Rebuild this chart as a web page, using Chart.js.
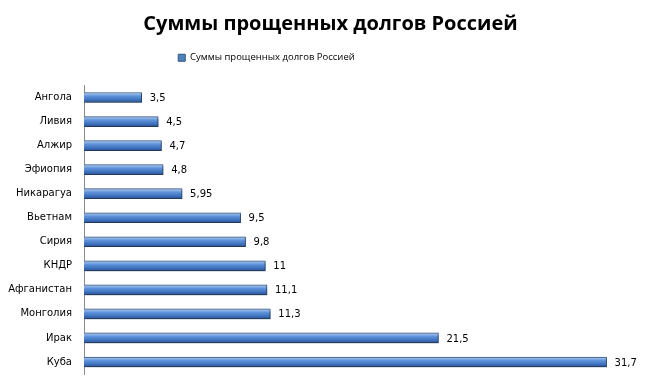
<!DOCTYPE html>
<html lang="ru">
<head>
  <meta charset="UTF-8">
  <title>Суммы прощенных долгов Россией</title>
  <script src="https://cdn.jsdelivr.net/npm/chart.js"></script>
  <style>
    body { margin: 0; background: #fff; overflow: hidden; }
    canvas { display: block; }
  </style>
</head>
<body>
  <!-- a little taller than the window: chart.js keeps ~18px under the last category -->
  <canvas id="myChart" width="672" height="392"></canvas>

  <script>
    var countries = ['Ангола', 'Ливия', 'Алжир', 'Эфиопия', 'Никарагуа', 'Вьетнам',
                     'Сирия', 'КНДР', 'Афганистан', 'Монголия', 'Ирак', 'Куба'];
    var debts = [3.5, 4.5, 4.7, 4.8, 5.95, 9.5, 9.8, 11, 11.1, 11.3, 21.5, 31.7];
    var seriesName = 'Суммы прощенных долгов Россией';

    // vertical gradient on each bar, like the office 3D style
    function barFill(context) {
      var chart = context.chart;
      var y = chart.scales.y;
      if (!y || context.dataIndex === undefined) return '#4f81bd';
      var cy = y.getPixelForValue(context.dataIndex);
      if (!isFinite(cy)) return '#4f81bd';
      var g = chart.ctx.createLinearGradient(0, cy - 5, 0, cy + 5);
      g.addColorStop(0, '#b9d1f0');
      g.addColorStop(0.35, '#5f93da');
      g.addColorStop(0.75, '#3c70bb');
      g.addColorStop(1, '#29508a');
      return g;
    }

    var shadowPlugin = {
      id: 'barShadow',
      beforeDatasetDraw: function(chart) {
        var c = chart.ctx;
        c.save();
        c.shadowColor = 'rgba(0,0,0,0.35)';
        c.shadowBlur = 2;
        c.shadowOffsetX = 1;
        c.shadowOffsetY = 2;
      },
      afterDatasetDraw: function(chart) {
        chart.ctx.restore();
      }
    };

    // the legend sits a bit left of centre and higher in the original
    var legendShift = {
      id: 'legendShift',
      afterLayout: function(chart) {
        chart.legend.left -= 64;
        chart.legend.right -= 64;
        chart.legend.top -= 13;
        chart.legend.bottom -= 13;
      }
    };

    var valueLabels = {
      id: 'valueLabels',
      afterDatasetsDraw: function(chart) {
        var c = chart.ctx;
        var meta = chart.getDatasetMeta(0);
        c.save();
        c.font = '10px "DejaVu Sans"';
        c.fillStyle = '#000';
        c.textBaseline = 'middle';
        c.textAlign = 'left';
        meta.data.forEach(function(bar, i) {
          var txt = String(debts[i]).replace('.', ',');
          c.fillText(txt, bar.x + 8, bar.y + 1);
        });
        c.restore();
      }
    };

    var ctx = document.getElementById('myChart').getContext('2d');

    var myChart = new Chart(ctx, {
      type: 'bar',
      data: {
        labels: countries,
        datasets: [{
          label: seriesName,
          data: debts,
          backgroundColor: barFill,
          borderColor: '#2f5586',
          borderWidth: 1,
          barThickness: 10
        }]
      },
      plugins: [shadowPlugin, legendShift, valueLabels],
      options: {
        indexAxis: 'y',
        responsive: false,
        animation: false,
        layout: { padding: { left: 0, right: 11, top: 0, bottom: 11 } },
        scales: {
          x: {
            display: false,
            min: 0,
            max: 35
          },
          y: {
            grid: { display: false, drawTicks: false },
            border: { display: true, color: '#8c8c8c', width: 1 },
            ticks: {
              color: '#000',
              padding: 12,
              font: { family: 'DejaVu Sans', size: 10 }
            },
            afterFit: function(scale) { scale.width = 84; }
          }
        },
        plugins: {
          title: {
            display: true,
            text: seriesName,
            color: '#000',
            font: { family: 'Open Sans', size: 20, weight: 'bold' },
            padding: { top: 12, bottom: 16 }
          },
          legend: {
            display: true,
            labels: {
              color: '#000',
              boxWidth: 7,
              boxHeight: 7,
              padding: 14,
              font: { family: 'Open Sans', size: 9.5 },
              generateLabels: function() {
                return [{
                  text: seriesName,
                  fillStyle: '#4f81bd',
                  strokeStyle: '#2f5586',
                  lineWidth: 1,
                  datasetIndex: 0
                }];
              }
            }
          },
          tooltip: { enabled: false }
        }
      }
    });
  </script>
</body>
</html>
